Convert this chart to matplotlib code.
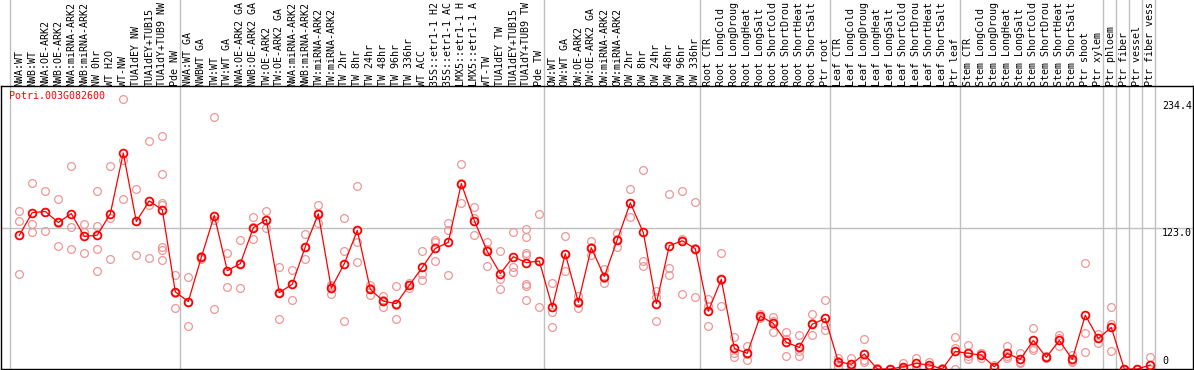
import numpy as np
import matplotlib
matplotlib.use("Agg")
import matplotlib.pyplot as plt
import matplotlib.transforms as mtransforms

gene = "Potri.003G082600"

labels = ["NWA:WT", "NWB:WT", "NWA:OE-ARK2", "NWB:OE-ARK2", "NWA:miRNA-ARK2", "NWB:miRNA-ARK2",
          "NW 0hr", "WT H2O", "WT-NW", "TUA1dEY NW", "TUA1dEY+TUB15", "TUA1dY+TUB9 NW", "Pde NW",
          "NWA:WT GA", "NWBWT GA", "TW:WT", "TW:WT GA", "NWA:OE-ARK2 GA", "NWB:OE-ARK2 GA",
          "TW:OE-ARK2", "TW:OE-ARK2 GA", "NWA:miRNA-ARK2", "NWB:miRNA-ARK2", "TW:miRNA-ARK2",
          "TW:miRNA-ARK2", "TW 2hr", "TW 8hr", "TW 24hr", "TW 48hr", "TW 96hr", "TW 336hr", "WT ACC",
          "35S::etr1-1 H2", "35S::etr1-1 AC", "LMX5::etr1-1 H", "LMX5::etr1-1 A", "WT-TW",
          "TUA1dEY TW", "TUA1dEY+TUB15", "TUA1dY+TUB9 TW", "Pde TW",
          "OW:WT", "OW:WT GA", "OW:OE-ARK2", "OW:OE-ARK2 GA", "OW:miRNA-ARK2", "OW:miRNA-ARK2",
          "OW 2hr", "OW 8hr", "OW 24hr", "OW 48hr", "OW 96hr", "OW 336hr",
          "Root CTR", "Root LongCold", "Root LongDroug", "Root LongHeat", "Root LongSalt",
          "Root ShortCold", "Root ShortDrou", "Root ShortHeat", "Root ShortSalt", "Ptr root",
          "Leaf CTR", "Leaf LongCold", "Leaf LongDroug", "Leaf LongHeat", "Leaf LongSalt",
          "Leaf ShortCold", "Leaf ShortDrou", "Leaf ShortHeat", "Leaf ShortSalt", "Ptr leaf",
          "Stem CTR", "Stem LongCold", "Stem LongDroug", "Stem LongHeat", "Stem LongSalt",
          "Stem ShortCold", "Stem ShortDrou", "Stem ShortHeat", "Stem ShortSalt", "Ptr shoot",
          "Ptr xylem", "Ptr phloem", "Ptr fiber", "Ptr vessel", "Ptr fiber vess"]

# samples per group (vertical separators)
group_sizes = [13, 28, 12, 10, 10, 11, 1, 1, 1, 1]

means = [116.8, 136.8, 137.7, 128.1, 135.9, 115.9, 117.0, 135.7, 188.8, 129.0, 147.0, 139.1, 67.4,
         59.0, 97.6, 134.2, 86.0, 92.1, 123.5, 130.7, 66.8, 74.1, 106.9, 135.7, 70.6, 92.1, 121.1,
         69.7, 59.3, 57.2, 73.2, 88.9, 105.4, 110.7, 162.1, 129.8, 102.8, 83.4, 98.2, 93.0, 94.4,
         54.0, 100.8, 58.4, 106.0, 80.8, 113.0, 145.2, 119.4, 57.2, 107.8, 112.1, 105.2,
         50.5, 78.4, 18.0, 13.7, 46.4, 39.8, 23.3, 18.9, 39.2, 44.2,
         6.4, 4.1, 13.1, 0.0, 0.0, 2.0, 4.9, 3.5, 0.0, 15.4,
         13.7, 12.2, 2.0, 13.7, 8.4, 25.0, 10.2, 25.0, 8.4, 47.0,
         26.7, 36.3, 0.0, 0.0, 3.5]

reps = [
    [138.3, 129.0, 83.4], [162.7, 127.2, 120.0], [155.7, 137.4, 120.3], [148.7, 127.8, 107.8],
    [177.8, 124.3, 104.6], [126.4, 119.6, 101.7], [155.7, 124.9, 105.2, 85.4], [177.8, 131.9, 95.9],
    [235.9, 183.0, 148.7], [157.5, 129.6, 99.9], [199.3, 143.5, 97.3],
    [203.6, 170.5, 145.2, 143.0, 106.6, 104.0, 95.6], [82.5, 66.8, 52.9],
    [80.8, 58.7, 37.5], [99.0, 97.6, 96.0], [220.2, 130.4, 52.3], [101.1, 85.4, 71.5],
    [113.0, 92.7, 70.6], [133.3, 123.9, 113.3], [138.3, 130.0, 123.7], [89.5, 67.6, 43.3],
    [86.9, 74.7, 60.7], [118.2, 106.6, 95.9], [143.5, 136.0, 127.5], [73.5, 73.0, 65.5],
    [132.2, 103.4, 41.6], [160.1, 110.7, 93.2], [73.2, 70.8, 65.1], [63.6, 60.5, 53.8],
    [72.3, 56.0, 43.3], [75.5, 73.3, 70.8], [103.4, 83.4, 77.8], [113.0, 110.9, 94.7],
    [127.5, 121.1, 82.5], [179.2, 162.4, 144.7], [141.8, 131.9, 116.8], [110.9, 105.2, 90.4],
    [102.8, 79.0, 69.7], [119.4, 89.5, 84.5], [122.3, 115.6, 101.3, 100.0, 74.3, 73.0, 60.1],
    [135.1, 94.1, 54.0],
    [75.5, 49.9, 36.3], [116.5, 100.5, 85.4], [63.9, 58.0, 53.2], [111.8, 106.9, 99.3],
    [87.1, 79.8, 75.5], [118.8, 113.6, 106.6], [157.5, 145.1, 133.0], [174.0, 94.1, 90.4],
    [68.0, 62.7, 42.4], [153.1, 88.0, 82.5], [155.7, 113.9, 66.0], [146.1, 106.2, 63.3],
    [61.6, 55.2, 37.2], [101.7, 78.0, 55.5], [27.6, 13.7, 10.7], [20.0, 13.5, 7.6],
    [48.5, 46.5, 44.2], [45.6, 41.8, 32.0], [32.5, 26.0, 11.3], [29.6, 15.8, 11.3],
    [47.9, 40.0, 29.6], [60.1, 38.7, 33.7],
    [9.8, 7.3, 2.0], [9.3, 3.0, 0.0], [25.9, 7.6, 5.8], [0.5, 0.0, 0.0], [0.3, 0.0, 0.0],
    [5.0, 1.0, 0.0], [9.8, 2.6, 2.3], [6.4, 2.0, 2.1], [0.5, 0.0, 0.0], [27.6, 18.3, 0.0],
    [20.9, 11.8, 8.4], [13.7, 13.6, 9.3], [3.5, 2.0, 0.5], [20.0, 11.8, 9.3], [13.7, 6.4, 5.0],
    [35.7, 18.6, 16.6], [11.0, 10.2, 9.5], [29.6, 26.7, 20.0], [12.2, 6.6, 6.4], [93.0, 31.1, 14.8],
    [30.5, 27.2, 22.4], [53.8, 39.2, 15.4], [0.0, 0.0, 0.0], [0.0, 0.0, 0.0], [10.2, 0.3, 0.0],
]

ytick_vals = [234.4, 123.0, 0]
ytick_text = ["234.4", "123.0", "0"]

W, H = 1194, 370
fig = plt.figure(figsize=(W / 100, H / 100), dpi=100)
top_px, bot_px = 85.5, 369.0
ax = fig.add_axes([1 / W, (H - bot_px) / H, (1193 - 1) / W, (bot_px - top_px) / H])

# pixel x = 19.3 + 13*i
ax.set_xlim((1 - 19.3) / 13, (1193 - 19.3) / 13)
ax.set_ylim(0, 234.4 * (bot_px - top_px) / (bot_px - 100.9))
ax.set_xticks([])
ax.set_yticks([])
for s in ax.spines.values():
    s.set_color("black")
    s.set_linewidth(1.0)

mono = "DejaVu Sans Mono"
x = np.arange(len(labels))

# group separators, running up through the label area
ext = bot_px / (bot_px - top_px)
bounds = [-0.715] + list(np.cumsum(group_sizes) - 1 + 0.36)
for b in bounds:
    ax.axvline(b, ymin=0, ymax=ext, color="#c0c0c0", lw=1.0, clip_on=False, zorder=1)
ax.axhline(123.0, color="#c0c0c0", lw=1.0, zorder=1)

# replicates
for i, r in enumerate(reps):
    ax.plot([i] * len(r), r, ls="none", marker="o", ms=5.6, mfc="none",
            mec="#f09696", mew=0.9, zorder=2)

ax.plot(x, means, color="red", lw=0.9, marker="o", ms=5.6, mfc="none",
        mec="red", mew=1.3, zorder=3)

for i, lab in enumerate(labels):
    ax.text(i, 1.0, lab, transform=mtransforms.blended_transform_factory(ax.transData, ax.transAxes),
            rotation=90, ha="center", va="bottom", fontsize=7.2, family=mono,
            clip_on=False)

fig.text(9 / W, 1 - 91 / H, gene, color="red", fontsize=7.2, family=mono, ha="left", va="top")

tr = mtransforms.blended_transform_factory(fig.transFigure, ax.transData)
for v, t in zip(ytick_vals, ytick_text):
    va = "bottom" if v == 0 else "top"
    yv = 2.5 if v == 0 else v
    ax.text(1162 / W, yv, t, transform=tr, fontsize=7.2, family=mono, ha="left", va=va)

fig.savefig("out.png", dpi=100)
